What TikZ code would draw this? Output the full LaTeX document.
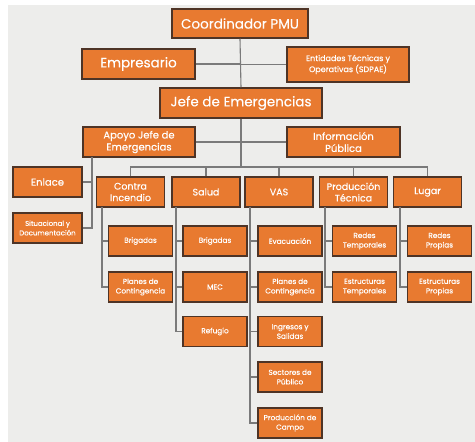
\documentclass[tikz,border=0pt]{standalone}
\usepackage{fontspec}
\setmainfont{Poppins}[FakeBold=0.35]
\definecolor{bgc}{HTML}{EDEDEB}
\definecolor{boxc}{HTML}{E87A30}
\definecolor{edgec}{HTML}{4E3426}
\definecolor{linec}{HTML}{7A7A7A}
\begin{document}
\begin{tikzpicture}[x=1pt,y=-1pt,
  box/.style={draw=edgec,line width=1.5pt,fill=boxc,text=white,align=center,inner sep=1pt},
  big/.style={box,font=\fontsize{13.5}{15}\selectfont},
  mid/.style={box,font=\fontsize{10}{12}\selectfont},
  sec/.style={box,font=\fontsize{9.5}{11.5}\selectfont,minimum width=68pt,minimum height=30pt},
  sml/.style={box,font=\fontsize{7.3}{9.5}\selectfont,minimum width=64pt,minimum height=30pt},
  conn/.style={draw=linec,line width=1.1pt}]
\useasboundingbox (0,0) rectangle (475,442);
\fill[white] (0,0) rectangle (475,442);
\fill[bgc] (8,5) rectangle (475,442);
% top
\node[big,minimum width=136pt,minimum height=29pt] (coord) at (240,23.5) {Coordinador PMU};
\node[big,minimum width=113pt,minimum height=30pt] (emp) at (138.5,64) {Empresario};
\node[box,font=\fontsize{8}{11}\selectfont,minimum width=122pt,minimum height=35pt] (ent) at (348,64.5) {Entidades Técnicas y\\Operativas (SDPAE)};
\node[big,minimum width=162pt,minimum height=30pt] (jefe) at (241,103) {Jefe de Emergencias};
\node[mid,minimum width=112pt,minimum height=30pt] (apoyo) at (139,142) {Apoyo Jefe de\\Emergencias};
\node[mid,minimum width=113pt,minimum height=30pt] (info) at (343.5,142) {Información\\Pública};
\node[mid,minimum width=69pt,minimum height=30pt] (enlace) at (47.5,182) {Enlace};
\node[sml,font=\fontsize{7}{9.5}\selectfont,minimum width=69pt] (situ) at (47.5,228) {Situacional y\\Documentación};
% sections
\node[sec] (contra) at (130.5,192) {Contra\\Incendio};
\node[sec] (salud) at (206,192) {Salud};
\node[sec] (vas) at (279,192) {VAS};
\node[sec] (prod) at (353.5,192) {Producción\\Técnica};
\node[sec] (lugar) at (427.5,192) {Lugar};
% children
\node[sml] (c1) at (140.5,241) {Brigadas};
\node[sml] (c2) at (140.5,287) {Planes de\\Contingencia};
\node[sml] (s1) at (215,241) {Brigadas};
\node[sml] (s2) at (215,287) {MEC};
\node[sml] (s3) at (215,331.5) {Refugio};
\node[sml] (v1) at (290,241) {Evacuación};
\node[sml] (v2) at (290,287) {Planes de\\Contingencia};
\node[sml] (v3) at (290,331.5) {Ingresos y\\Salidas};
\node[sml] (v4) at (290,377) {Sectores de\\Público};
\node[sml] (v5) at (290,423) {Producción de\\Campo};
\node[sml] (p1) at (364.5,241) {Redes\\Temporales};
\node[sml] (p2) at (364.5,287) {Estructuras\\Temporales};
\node[sml] (l1) at (439.5,241) {Redes\\Propias};
\node[sml] (l2) at (439.5,287) {Estructuras\\Propias};
% connectors
\coordinate (bus) at (241,167);
\path[conn] (coord.south) -- (jefe.north);
\path[conn] (jefe.south) -- (bus);
\path[conn] (emp.east) -- (emp.east -| coord.south);
\path[conn] (ent.west) -- (ent.west -| coord.south);
\path[conn] (apoyo.east) -- (apoyo.east -| jefe.south);
\path[conn] (info.west) -- (info.west -| jefe.south);
\path[conn] (contra.north) |- (bus) -| (lugar.north);
\path[conn] (salud.north) -- (salud.north |- bus);
\path[conn] (vas.north) -- (vas.north |- bus);
\path[conn] (prod.north) -- (prod.north |- bus);
\coordinate (ax) at (92,157);
\path[conn] (ax) |- (situ.east);
\path[conn] (ax |- enlace.east) -- (enlace.east);
\foreach \p/\x/\last/\kids in {contra/102/c2/{c1,c2}, salud/176/s3/{s1,s2,s3}, vas/250/v5/{v1,v2,v3,v4,v5}, prod/325/p2/{p1,p2}, lugar/400/l2/{l1,l2}}{
  \path[conn] (\x,207) |- (\last.west);
  \foreach \k in \kids {\path[conn] (\x,0 |- \k.west) -- (\k.west);}
}
\end{tikzpicture}
\end{document}
